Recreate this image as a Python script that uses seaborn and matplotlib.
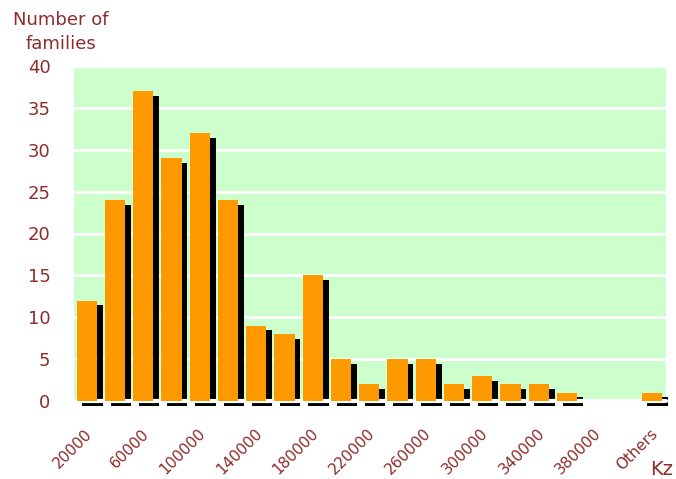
import matplotlib
matplotlib.use("Agg")
import matplotlib.pyplot as plt
import matplotlib.transforms as mtransforms
import seaborn as sns
import pandas as pd

# Family income distribution (number of families per income bracket, Kz)
brackets = ["20000", "40000", "60000", "80000", "100000", "120000", "140000",
            "160000", "180000", "200000", "220000", "240000", "260000", "280000",
            "300000", "320000", "340000", "360000", "380000", "400000", "Others"]
families = [12, 24, 37, 29, 32, 24, 9, 8, 15, 5, 2, 5, 5, 2, 3, 2, 2, 1, 0, 0, 1]
shown_labels = ["20000", "", "60000", "", "100000", "", "140000", "", "180000", "",
                "220000", "", "260000", "", "300000", "", "340000", "", "380000", "",
                "Others"]
y_ticks = [0, 5, 10, 15, 20, 25, 30, 35, 40]

df = pd.DataFrame({"bracket": brackets, "families": families})

sns.set_theme(style="white")
plt.rcParams["font.family"] = ["DejaVu Sans"]

text_color = "#8f2b2b"
bar_color = "#ff9900"
panel_color = "#ccffcc"

fig = plt.figure(figsize=(6.76, 4.79), dpi=100)
ax = fig.add_axes([74 / 676, 1 - 401 / 479, (666 - 74) / 676, (401 - 66) / 479])
ax.set_facecolor(panel_color)

# drop shadow bars, shifted right and down
sns.barplot(data=df, x="bracket", y="families", color="black", saturation=1,
            width=0.72, ax=ax, zorder=2)
shadow_patches = list(ax.patches)
offset = mtransforms.ScaledTranslation(5.7 / 100, -4.8 / 100, fig.dpi_scale_trans)
for p in shadow_patches:
    p.set_transform(ax.transData + offset)
    p.set_clip_on(False)
    p.set_edgecolor("none")

# white gap between the panel and the shadow edge below it
ax.axhline(0, color="white", linewidth=3, zorder=2.5, clip_on=False)

# main bars
sns.barplot(data=df, x="bracket", y="families", color=bar_color, saturation=1,
            width=0.72, ax=ax, zorder=3)
for p in ax.patches[len(shadow_patches):]:
    p.set_edgecolor("none")
    p.set_clip_on(False)

ax.set_xlim(-0.45, 20.5)
ax.set_ylim(0, 40)
ax.set_yticks(y_ticks)
ax.yaxis.grid(True, color="white", linewidth=2, zorder=1)
ax.set_axisbelow(True)
for s in ax.spines.values():
    s.set_visible(False)

ax.set_xticks(range(len(brackets)))
ax.set_xticklabels(shown_labels, rotation=45, ha="right", rotation_mode="anchor",
                   fontsize=11, color=text_color)
ax.tick_params(axis="x", length=0, pad=18)
ax.tick_params(axis="y", length=0, pad=17, labelsize=13, labelcolor=text_color)
shift = mtransforms.ScaledTranslation(-2 / 100, 0, fig.dpi_scale_trans)
for lbl in ax.get_xticklabels():
    lbl.set_transform(lbl.get_transform() + shift)
ax.set_xlabel("")
ax.set_ylabel("")

fig.text(61 / 676, 1 - 11 / 479, "Number of\nfamilies", ha="center", va="top",
         fontsize=13, color=text_color, linespacing=1.45)
fig.text(673 / 676, 1 - 475 / 479, "Kz", ha="right", va="baseline",
         fontsize=14, color=text_color)

fig.savefig("out.png", dpi=100, facecolor="white")
